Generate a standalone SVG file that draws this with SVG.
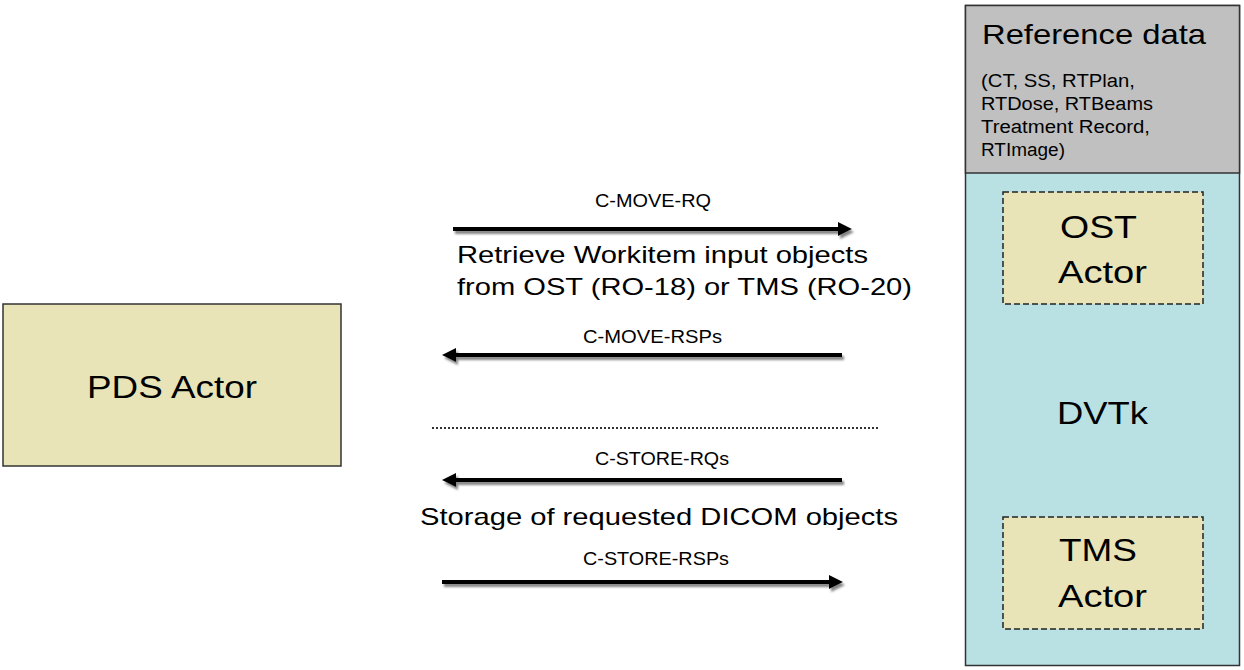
<svg xmlns="http://www.w3.org/2000/svg" width="1244" height="670" viewBox="0 0 1244 670">
<defs>
<style>
text{font-family:"Liberation Sans",Arial,sans-serif;fill:#000}
.actor{fill:#e8e4b8;stroke:#333;stroke-width:1.5}
.dash{fill:#e8e4b8;stroke:#222;stroke-width:1.5;stroke-dasharray:6,3}
.lbl{font-size:18px}
.big{font-size:24px}
.name{font-size:32px}
.arr{stroke:#000;stroke-width:4;fill:none;marker-end:url(#ah)}
</style>
<marker id="ah" markerUnits="userSpaceOnUse" viewBox="0 0 14 14" markerWidth="14" markerHeight="14" refX="2" refY="7" orient="auto">
<path d="M0,0 L14,7 L0,14 z" fill="#000"/>
</marker>
<filter id="sh" x="-5%" y="-100%" width="110%" height="300%">
<feDropShadow dx="2" dy="3" stdDeviation="0.8" flood-color="#777" flood-opacity="0.9"/>
</filter>
</defs>
<rect width="1244" height="670" fill="#fff"/>

<g id="pds">
<rect class="actor" x="3" y="304" width="338" height="162"/>
<text class="name" x="87" y="398" textLength="170" lengthAdjust="spacingAndGlyphs">PDS Actor</text>
</g>

<g id="dvtk">
<rect x="965.5" y="5.5" width="274" height="660" fill="#b9e1e4" stroke="#333" stroke-width="1.5"/>
<rect x="965.5" y="5.5" width="274" height="167.5" fill="#c0c0c0" stroke="#333" stroke-width="1.5"/>
<text x="982" y="44" style="font-size:28px" textLength="224" lengthAdjust="spacingAndGlyphs">Reference data</text>
<text class="lbl" x="981" y="87" textLength="154" lengthAdjust="spacingAndGlyphs">(CT, SS, RTPlan,</text>
<text class="lbl" x="981" y="110" textLength="172" lengthAdjust="spacingAndGlyphs">RTDose, RTBeams</text>
<text class="lbl" x="981" y="133" textLength="169" lengthAdjust="spacingAndGlyphs">Treatment Record,</text>
<text class="lbl" x="981" y="156" textLength="84" lengthAdjust="spacingAndGlyphs">RTImage)</text>
<text class="name" x="1057" y="424" textLength="91" lengthAdjust="spacingAndGlyphs">DVTk</text>
</g>

<g id="ost">
<rect class="dash" x="1003" y="192" width="200" height="112"/>
<text class="name" x="1060" y="238" textLength="77" lengthAdjust="spacingAndGlyphs">OST</text>
<text class="name" x="1058" y="283" textLength="89" lengthAdjust="spacingAndGlyphs">Actor</text>
</g>

<g id="tms">
<rect class="dash" x="1003" y="517" width="200" height="112"/>
<text class="name" x="1059" y="561" textLength="78" lengthAdjust="spacingAndGlyphs">TMS</text>
<text class="name" x="1058" y="607" textLength="89" lengthAdjust="spacingAndGlyphs">Actor</text>
</g>

<g id="connectors">
<g filter="url(#sh)">
<line class="arr" x1="453" y1="229" x2="840" y2="229"/>
<line class="arr" x1="842" y1="355" x2="454" y2="355"/>
<line class="arr" x1="842" y1="480" x2="454" y2="480"/>
<line class="arr" x1="442" y1="582" x2="831" y2="582"/>
</g>
<line x1="432" y1="428" x2="880" y2="428" stroke="#333" stroke-width="2" stroke-dasharray="2,2"/>
<text class="lbl" x="595" y="207" textLength="116" lengthAdjust="spacingAndGlyphs">C-MOVE-RQ</text>
<text class="big" x="457" y="263" textLength="411" lengthAdjust="spacingAndGlyphs">Retrieve Workitem input objects</text>
<text class="big" x="457" y="295" textLength="455" lengthAdjust="spacingAndGlyphs">from OST (RO-18) or TMS (RO-20)</text>
<text class="lbl" x="583" y="343" textLength="139" lengthAdjust="spacingAndGlyphs">C-MOVE-RSPs</text>
<text class="lbl" x="595" y="465" textLength="134" lengthAdjust="spacingAndGlyphs">C-STORE-RQs</text>
<text class="big" x="420" y="525" textLength="478" lengthAdjust="spacingAndGlyphs">Storage of requested DICOM objects</text>
<text class="lbl" x="583" y="565" textLength="146" lengthAdjust="spacingAndGlyphs">C-STORE-RSPs</text>
</g>
</svg>
